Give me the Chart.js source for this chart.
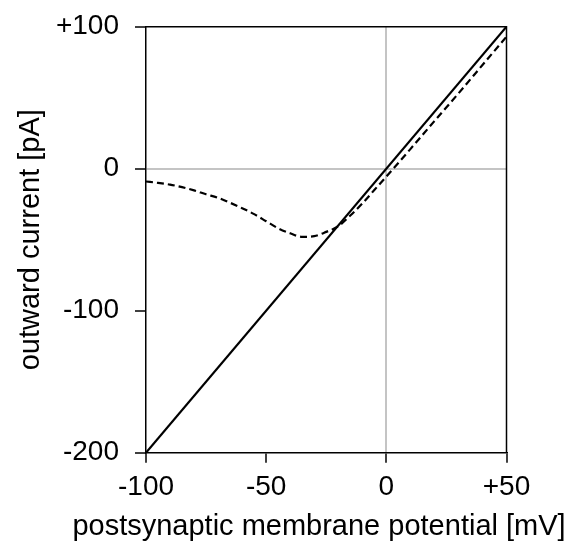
<!DOCTYPE html>
<html>
<head>
<meta charset="utf-8">
<script src="https://cdn.jsdelivr.net/npm/chart.js@4/dist/chart.umd.min.js"></script>
<style>
  html, body { margin: 0; padding: 0; background: #fff; }
  #wrap { width: 576px; height: 545px; }
</style>
</head>
<body>
<div id="wrap"><canvas id="ivChart" width="576" height="545"></canvas></div>
<script>
// membrane potential [mV] and currents [pA]
const linearV = [-100, 50];
const linearI = [-200, 100];

const blockedV = [-100, -95, -90, -85, -80, -75, -70, -65, -60, -55, -50, -45, -40, -35, -30, -25, -20, -15, -10, -5, 0, 10, 20, 30, 40, 50];
const blockedI = [-9, -10, -11.2, -13, -15.3, -18, -20.5, -24, -27.8, -32, -37, -42, -45.5, -48, -47.5, -44.5, -40.5, -33, -24.5, -15, -5.5, 13.8, 33.5, 53, 73, 93];

const xTicks = [-100, -50, 0, 50];
const yTicks = [-200, -100, 0, 100];

const xTitle = 'postsynaptic membrane potential [mV]';
const yTitle = 'outward current [pA]';

const fontFamily = "'Liberation Sans', Arial, sans-serif";
const font = { family: fontFamily, size: 28 };

// helper: pair up x and y arrays for the line datasets
function pairs(xs, ys) {
    return xs.map((x, i) => ({ x: x, y: ys[i] }));
}

// top/right edges of the box, plus the two axis titles
// (drawn by hand so the long x title is not squeezed to the plot width)
const frame = {
    id: 'frame',
    afterDraw(chart) {
        const a = chart.chartArea;
        const ctx = chart.ctx;
        ctx.save();
        ctx.strokeStyle = '#000';
        ctx.lineWidth = 1.5;
        ctx.beginPath();
        ctx.moveTo(a.left, a.top);
        ctx.lineTo(a.right, a.top);
        ctx.lineTo(a.right, a.bottom);
        ctx.stroke();

        ctx.fillStyle = '#000';
        ctx.font = '29px ' + fontFamily;
        ctx.textAlign = 'center';
        ctx.textBaseline = 'alphabetic';
        ctx.fillText(xTitle, 319, 535);

        ctx.translate(39, (a.top + a.bottom) / 2);
        ctx.rotate(-Math.PI / 2);
        ctx.fillText(yTitle, 0, 0);
        ctx.restore();
    }
};

new Chart(document.getElementById('ivChart'), {
    type: 'line',
    data: {
        datasets: [
            {
                data: pairs(linearV, linearI),
                borderColor: '#000',
                borderWidth: 2.2,
                pointRadius: 0,
                tension: 0
            },
            {
                data: pairs(blockedV, blockedI),
                borderColor: '#000',
                borderWidth: 2.2,
                borderDash: [7, 4],
                pointRadius: 0,
                cubicInterpolationMode: 'monotone'
            }
        ]
    },
    options: {
        responsive: false,
        animation: false,
        layout: { padding: { top: 26.7, right: 69.5, left: 0, bottom: 0 } },
        plugins: { legend: { display: false }, tooltip: { enabled: false } },
        scales: {
            x: {
                type: 'linear',
                min: -100,
                max: 50,
                afterBuildTicks: s => { s.ticks = xTicks.map(v => ({ value: v })); },
                afterFit: s => { s.height = 92.3; },
                ticks: {
                    color: '#000',
                    font: font,
                    padding: 8,
                    maxRotation: 0,
                    callback: v => (v > 0 ? '+' + v : '' + v)
                },
                grid: {
                    color: c => (c.tick && c.tick.value === 0 ? '#c4c4c4' : 'rgba(0,0,0,0)'),
                    lineWidth: 2,
                    tickColor: '#000',
                    tickLength: 10,
                    tickWidth: 1.5
                },
                border: { color: '#000', width: 1.5 }
            },
            y: {
                min: -200,
                max: 100,
                afterBuildTicks: s => { s.ticks = yTicks.map(v => ({ value: v })); },
                afterFit: s => {
                    s.width = 146;
                    // don't let the top label push the plot area down
                    s.paddingTop = 0;
                    s.paddingBottom = 0;
                },
                ticks: {
                    color: '#000',
                    font: font,
                    padding: 16,
                    callback: v => (v > 0 ? '+' + v : '' + v)
                },
                grid: {
                    color: c => (c.tick && c.tick.value === 0 ? '#c4c4c4' : 'rgba(0,0,0,0)'),
                    lineWidth: 2,
                    tickColor: '#000',
                    tickLength: 11,
                    tickWidth: 1.5
                },
                border: { color: '#000', width: 1.5 }
            }
        }
    },
    plugins: [frame]
});
</script>
</body>
</html>
